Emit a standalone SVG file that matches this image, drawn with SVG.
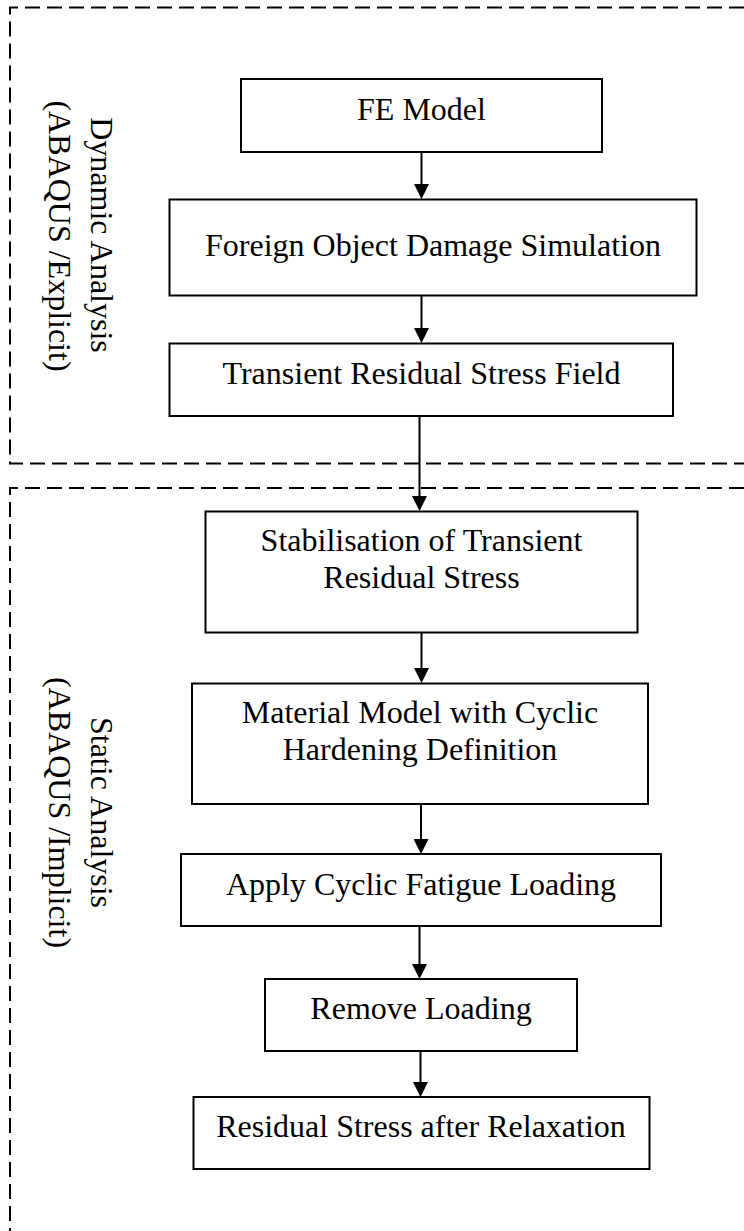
<svg xmlns="http://www.w3.org/2000/svg" width="744" height="1231" viewBox="0 0 744 1231">
<style>
  .box { fill: #ffffff; stroke: #000000; stroke-width: 2; }
  .lbl { font-family: "Liberation Serif", "Times New Roman", serif; font-size: 32px; fill: #000000; text-anchor: middle; }
  .dash { fill: none; stroke: #000000; stroke-width: 2; stroke-dasharray: 15 7; }
  .conn { stroke: #000000; stroke-width: 2; fill: none; marker-end: url(#ah); }
</style>
<defs>
  <marker id="ah" markerWidth="15" markerHeight="15" refX="1" refY="7.5" orient="auto" markerUnits="userSpaceOnUse">
    <path d="M0,0 L15,7.5 L0,15 z" fill="#000000"/>
  </marker>
</defs>
<rect width="744" height="1231" fill="#ffffff"/>

<g id="group-dynamic">
  <path class="dash" d="M744,7.5 H10 V463.5 H744"/>
  <text class="lbl" transform="translate(91,235) rotate(90)">Dynamic Analysis</text>
  <text class="lbl" transform="translate(48.5,236) rotate(90)">(ABAQUS /Explicit)</text>
</g>
<g id="group-static">
  <path class="dash" d="M744,488 H10 V1231"/>
  <text class="lbl" transform="translate(91,812.5) rotate(90)">Static Analysis</text>
  <text class="lbl" transform="translate(48.5,812.5) rotate(90)">(ABAQUS /Implicit)</text>
</g>

<g id="connectors">
  <line class="conn" x1="421.5" y1="152" x2="421.5" y2="185"/>
  <line class="conn" x1="421.5" y1="296" x2="421.5" y2="329"/>
  <line class="conn" x1="419.5" y1="416" x2="419.5" y2="497"/>
  <line class="conn" x1="421.5" y1="632" x2="421.5" y2="669"/>
  <line class="conn" x1="421" y1="804" x2="421" y2="840"/>
  <line class="conn" x1="419.5" y1="926" x2="419.5" y2="965"/>
  <line class="conn" x1="420.5" y1="1051" x2="420.5" y2="1083"/>
</g>

<g id="fe-model">
  <rect class="box" x="241" y="79" width="361" height="73"/>
  <text class="lbl" x="421.5" y="120">FE Model</text>
</g>
<g id="fod-simulation">
  <rect class="box" x="169.5" y="199.5" width="527" height="96"/>
  <text class="lbl" x="433" y="256">Foreign Object Damage Simulation</text>
</g>
<g id="transient-field">
  <rect class="box" x="169.5" y="343.5" width="503.5" height="72.5"/>
  <text class="lbl" x="421.5" y="384">Transient Residual Stress Field</text>
</g>
<g id="stabilisation">
  <rect class="box" x="205.5" y="511.5" width="432" height="121"/>
  <text class="lbl" x="421.5" y="551">Stabilisation of Transient</text>
  <text class="lbl" x="421.5" y="588">Residual Stress</text>
</g>
<g id="material-model">
  <rect class="box" x="192" y="683.5" width="456" height="120.5"/>
  <text class="lbl" x="420" y="723">Material Model with Cyclic</text>
  <text class="lbl" x="420" y="760">Hardening Definition</text>
</g>
<g id="apply-loading">
  <rect class="box" x="181" y="854" width="480" height="72"/>
  <text class="lbl" x="421" y="895">Apply Cyclic Fatigue Loading</text>
</g>
<g id="remove-loading">
  <rect class="box" x="265" y="979" width="312" height="72"/>
  <text class="lbl" x="421" y="1019">Remove Loading</text>
</g>
<g id="residual-after">
  <rect class="box" x="193.5" y="1097" width="456" height="72"/>
  <text class="lbl" x="421" y="1137">Residual Stress after Relaxation</text>
</g>
</svg>
